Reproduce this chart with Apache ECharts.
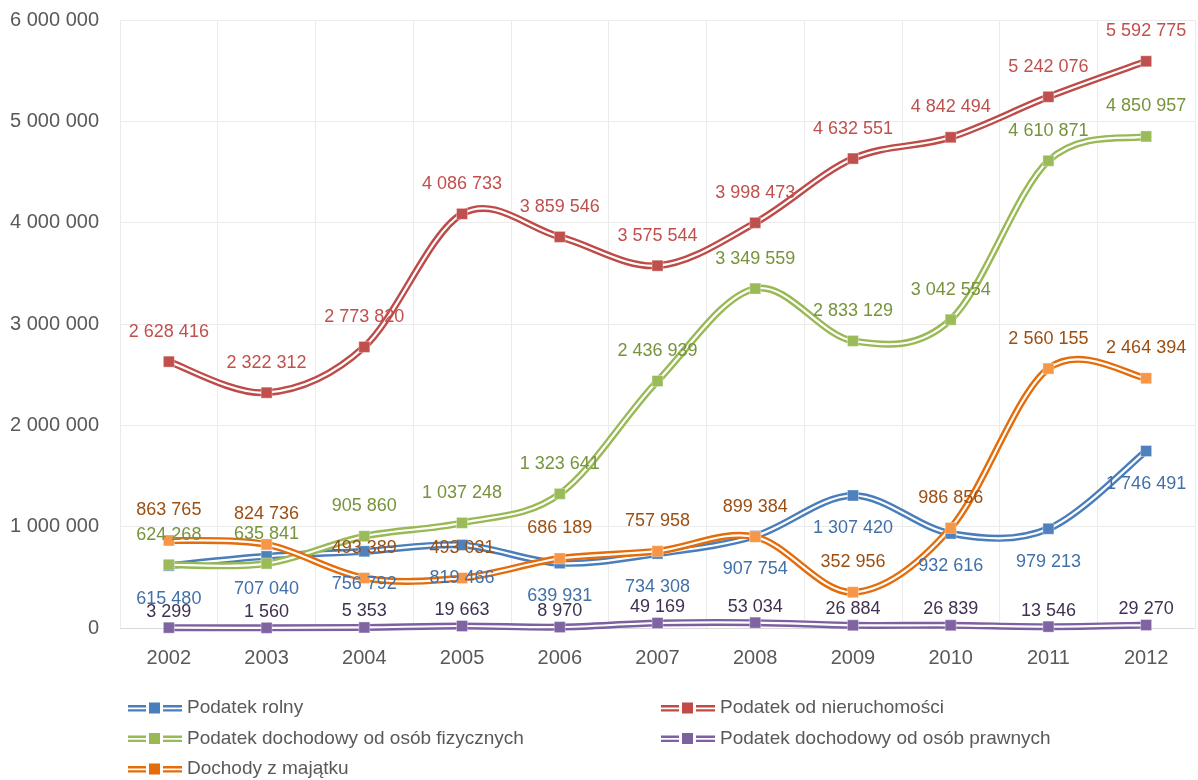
<!DOCTYPE html>
<html>
<head>
<meta charset="utf-8">
<style>
  html, body { margin: 0; padding: 0; background: #ffffff; }
  #chart { width: 1198px; height: 780px; }
</style>
<script src="https://cdn.jsdelivr.net/npm/echarts@6/dist/echarts.min.js"></script>
</head>
<body>
<div id="chart"></div>
<script>
// Budget revenue by source, 2002–2012
const years = ['2002', '2003', '2004', '2005', '2006', '2007', '2008', '2009', '2010', '2011', '2012'];

const podatekRolny = [615480, 707040, 756792, 819466, 639931, 734308, 907754, 1307420, 932616, 979213, 1746491];
const podatekNieruchomosci = [2628416, 2322312, 2773820, 4086733, 3859546, 3575544, 3998473, 4632551, 4842494, 5242076, 5592775];
const pitFizyczne = [624268, 635841, 905860, 1037248, 1323641, 2436939, 3349559, 2833129, 3042554, 4610871, 4850957];
const citPrawne = [3299, 1560, 5353, 19663, 8970, 49169, 53034, 26884, 26839, 13546, 29270];
const dochodyMajatek = [863765, 824736, 493389, 493031, 686189, 757958, 899384, 352956, 986856, 2560155, 2464394];

const yTicks = [0, 1000000, 2000000, 3000000, 4000000, 5000000, 6000000];

const FONT = "'Liberation Sans', Arial, sans-serif";

function fmt(v) {
  return String(Math.round(v)).replace(/\B(?=(\d{3})+(?!\d))/g, ' ');
}

const defs = [
  { name: 'Podatek rolny', data: podatekRolny, line: '#4A7EBB', mark: '#4F81BD', text: '#4270A8', pos: 'bottom', dist: 18 },
  { name: 'Podatek od nieruchomości', data: podatekNieruchomosci, line: '#BE4B48', mark: '#C0504D', text: '#C0504D', pos: 'top', dist: 15 },
  { name: 'Podatek dochodowy od osób fizycznych', data: pitFizyczne, line: '#98B954', mark: '#9BBB59', text: '#77933C', pos: 'top', dist: 15 },
  { name: 'Podatek dochodowy od osób prawnych', data: citPrawne, line: '#7D60A0', mark: '#8064A2', text: '#403151', pos: 'top', dist: 1 },
  { name: 'Dochody z majątku', data: dochodyMajatek, line: '#E46C0A', mark: '#F79646', text: '#9C4F12', pos: 'top', dist: 15 }
];

// Cardinal (Catmull-Rom) bezier through pixel points, ends use duplicated endpoints
function smoothPath(pts) {
  let d = 'M' + pts[0][0] + ' ' + pts[0][1];
  const n = pts.length;
  for (let i = 0; i < n - 1; i++) {
    const p0 = pts[Math.max(i - 1, 0)];
    const p1 = pts[i];
    const p2 = pts[i + 1];
    const p3 = pts[Math.min(i + 2, n - 1)];
    const c1x = p1[0] + (p2[0] - p0[0]) / 6;
    const c1y = p1[1] + (p2[1] - p0[1]) / 6;
    const c2x = p2[0] - (p3[0] - p1[0]) / 6;
    const c2y = p2[1] - (p3[1] - p1[1]) / 6;
    d += ' C' + c1x + ' ' + c1y + ' ' + c2x + ' ' + c2y + ' ' + p2[0] + ' ' + p2[1];
  }
  return d;
}

const series = [];
// double-stroke smoothed lines: coloured outer stroke with a white core
defs.forEach(function (d, k) {
  series.push({
    name: d.name, type: 'custom', coordinateSystem: 'cartesian2d', z: 2 + k * 0.01,
    silent: true, clip: false,
    data: d.data.map(function (v, i) { return [i, v]; }),
    encode: { x: 0, y: 1 },
    itemStyle: { color: d.line },
    renderItem: function (params, api) {
      if (params.dataIndex !== 0) return null;
      const pts = d.data.map(function (v, i) { return api.coord([i, v]); });
      const pd = smoothPath(pts);
      return {
        type: 'group',
        children: [
          { type: 'path', shape: { pathData: pd }, style: { fill: 'none', stroke: d.line, lineWidth: 7 } },
          { type: 'path', shape: { pathData: pd }, style: { fill: 'none', stroke: '#ffffff', lineWidth: 2.2 } }
        ]
      };
    }
  });
});
// square markers and value labels
defs.forEach(function (d) {
  series.push({
    name: d.name, type: 'line', data: d.data, z: 4,
    symbol: 'rect', symbolSize: 11, showSymbol: true,
    lineStyle: { opacity: 0, width: 0 },
    itemStyle: { color: d.mark, borderColor: 'rgba(255,255,255,0.35)', borderWidth: 1 },
    label: {
      show: true, position: d.pos, distance: d.dist,
      color: d.text, fontFamily: FONT, fontSize: 18,
      formatter: function (p) { return fmt(p.value); }
    }
  });
});

// legend glyph: double line, square, double line
const legendIcon = 'path://M0 3h18v2.4H0zM0 7.2h18v2.4H0zM21 0.5h11v11H21zM35 3h19v2.4H35zM35 7.2h19v2.4H35z';

function legendBlock(names, left) {
  return {
    orient: 'vertical', left: left, top: 697, padding: 0,
    icon: legendIcon, itemWidth: 54, itemHeight: 12, itemGap: 8.5,
    selectedMode: false,
    textStyle: { color: '#595959', fontFamily: FONT, fontSize: 19, lineHeight: 22 },
    data: names.map(function (n) {
      const d = defs.find(function (x) { return x.name === n; });
      return { name: n, itemStyle: { color: d.line } };
    })
  };
}

const option = {
  animation: false,
  backgroundColor: '#ffffff',
  grid: { left: 120, right: 3, top: 20, bottom: 152, containLabel: false },
  legend: [
    legendBlock(['Podatek rolny', 'Podatek dochodowy od osób fizycznych', 'Dochody z majątku'], 128),
    legendBlock(['Podatek od nieruchomości', 'Podatek dochodowy od osób prawnych'], 661)
  ],
  xAxis: {
    type: 'category', data: years, boundaryGap: true,
    axisLine: { show: true, lineStyle: { color: '#D9D9D9', width: 1 } },
    axisTick: { show: false },
    splitLine: { show: true, lineStyle: { color: '#EBEBEB', width: 1 } },
    axisLabel: { color: '#595959', fontFamily: FONT, fontSize: 20, margin: 20 }
  },
  yAxis: {
    type: 'value', min: yTicks[0], max: yTicks[yTicks.length - 1], interval: yTicks[1] - yTicks[0],
    axisLine: { show: false }, axisTick: { show: false },
    splitLine: { show: true, lineStyle: { color: '#EBEBEB', width: 1 } },
    axisLabel: { color: '#595959', fontFamily: FONT, fontSize: 20, margin: 21, formatter: fmt }
  },
  series: series
};

const chart = echarts.init(document.getElementById('chart'), null, { renderer: 'canvas' });
chart.setOption(option);
</script>
</body>
</html>
